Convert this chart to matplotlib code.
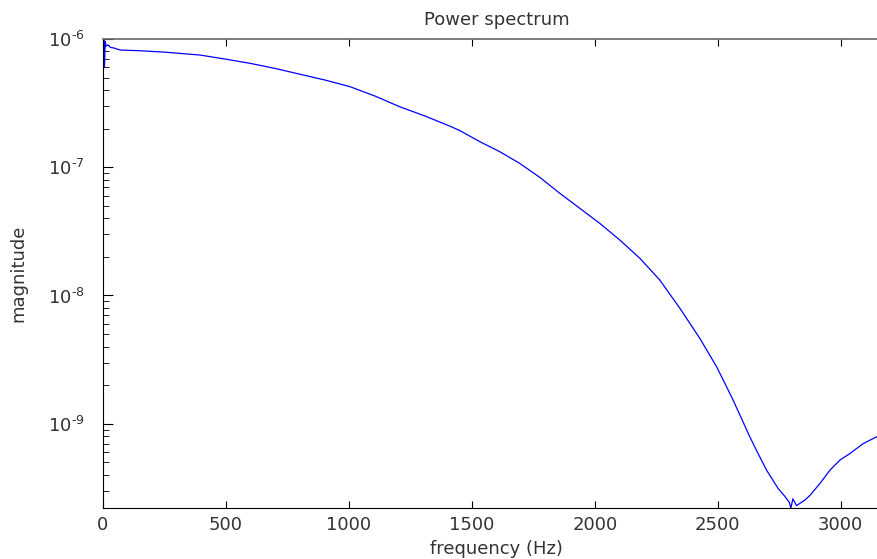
"""
Power spectrum plot (log magnitude vs frequency)
"""
import numpy as np
import matplotlib
matplotlib.use('Agg')
import matplotlib.pyplot as plt
from matplotlib.ticker import FixedLocator, LogLocator, NullFormatter

plt.rcParams['font.family'] = ['DejaVu Sans']
plt.rcParams['mathtext.fontset'] = 'custom'
plt.rcParams['mathtext.rm'] = 'DejaVu Sans'

# Frequency (Hz) and magnitude
freq = [0, 3, 6, 9, 12, 20, 30, 45, 70, 150, 250, 394, 496, 598, 699, 801,
        902, 1004, 1106, 1207, 1309, 1411, 1451, 1533, 1614, 1695, 1776, 1858,
        1939, 2020, 2102, 2183, 2264, 2346, 2427, 2495, 2535, 2562, 2630, 2657,
        2698, 2745, 2770, 2790, 2797, 2805, 2820, 2833, 2855, 2875, 2915, 2956,
        2996, 3037, 3091, 3145]
mag = [4.2e-7, 1.0e-6, 6.0e-7, 9.6e-7, 8.8e-7, 9.0e-7, 8.6e-7, 8.5e-7, 8.2e-7,
       8.1e-7, 7.9e-7, 7.5e-7, 6.98e-7, 6.46e-7, 5.9e-7, 5.31e-7, 4.79e-7,
       4.25e-7, 3.59e-7, 2.96e-7, 2.51e-7, 2.09e-7, 1.93e-7, 1.58e-7, 1.32e-7,
       1.07e-7, 8.34e-8, 6.25e-8, 4.78e-8, 3.65e-8, 2.7e-8, 1.95e-8, 1.32e-8,
       7.93e-9, 4.62e-9, 2.78e-9, 1.95e-9, 1.53e-9, 7.91e-10, 6.2e-10,
       4.35e-10, 3.13e-10, 2.75e-10, 2.45e-10, 2.2e-10, 2.6e-10, 2.3e-10,
       2.39e-10, 2.55e-10, 2.77e-10, 3.42e-10, 4.35e-10, 5.2e-10, 5.86e-10,
       7.0e-10, 7.9e-10]

xticks = [0, 500, 1000, 1500, 2000, 2500, 3000]
yticks = [1e-9, 1e-8, 1e-7, 1e-6]
ylabels = ['$10^{\u2010' + str(e) + '}$' for e in [9, 8, 7, 6]]

fig = plt.figure(figsize=(8.78, 5.59), dpi=100)
# axes run past the right edge of the picture, as in the original screenshot
ax = fig.add_axes([103/878, 51/559, 787/878, 469/559])
ax.semilogy(freq, mag, color='#0000ff', lw=0.9)

ax.set_xlim(0, 3200)
ax.set_ylim(10**-9.657, 1e-6)
ax.xaxis.set_major_locator(FixedLocator(xticks))
ax.yaxis.set_major_locator(FixedLocator(yticks))
ax.set_yticklabels(ylabels)
ax.yaxis.set_minor_locator(LogLocator(base=10, subs=np.arange(2, 10), numticks=20))
ax.yaxis.set_minor_formatter(NullFormatter())

txt = '#333333'
ax.tick_params(axis='both', which='both', direction='in', top=True, right=True,
               labelsize=13, labelcolor=txt)
ax.tick_params(axis='x', which='major', length=5, pad=6)
ax.tick_params(axis='y', which='major', length=7, pad=13)
ax.tick_params(axis='y', which='minor', length=4)
ax.spines['top'].set_color('#666666')
ax.spines['top'].set_linewidth(1.2)

ax.set_title('Power spectrum', fontsize=13, color=txt, pad=10)
ax.set_xlabel('frequency (Hz)', fontsize=13, color=txt, labelpad=4)
ax.set_ylabel('magnitude', fontsize=13, color=txt, labelpad=15)

fig.savefig('out.png', dpi=100)
